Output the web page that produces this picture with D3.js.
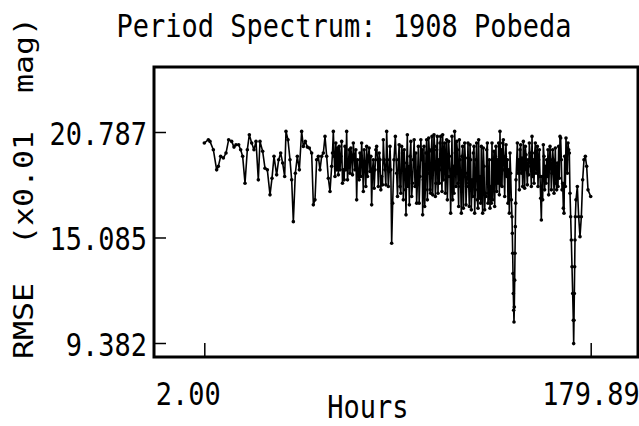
<!DOCTYPE html>
<html>
<head>
<meta charset="utf-8">
<script src="https://cdn.jsdelivr.net/npm/d3@7/dist/d3.min.js"></script>
<style>
html,body{margin:0;padding:0;background:#fff;}
svg{display:block;}
text{font-family:"DejaVu Sans Mono","Liberation Mono",monospace;fill:#000;}
</style>
</head>
<body>
<svg id="chart" width="639" height="426"></svg>
<script>
const title = "Period Spectrum: 1908 Pobeda";
const xLabel = "Hours";
const yLabel = "RMSE  (x0.01  mag)";
const xTicks = [2.00, 179.89];
const xTickLabels = ["2.00", "179.89"];
const yTicks = [20.787, 15.085, 9.382];
const yTickLabels = ["20.787", "15.085", "9.382"];

const hours = [
2.00,3.86,4.62,6.16,7.69,8.46,9.53,10.76,11.99,13.22,14.60,15.67,16.59,17.82,18.74,19.66,20.74,21.81,22.73,23.81,
24.88,25.80,26.87,27.64,28.87,29.94,31.02,32.25,33.17,34.09,35.31,36.24,37.16,38.08,39.00,39.61,40.53,41.45,42.22,42.99,
43.91,44.83,45.75,46.82,47.59,48.51,49.43,50.35,51.43,52.20,52.96,53.73,54.50,55.26,56.03,56.80,57.57,58.34,59.10,59.87,
60.64,61.40,62.17,62.94,63.71,64.47,65.24,66.01,66.77,67.54,68.31,69.08,69.84,70.61,71.38,72.15,72.91,73.68,74.45,75.21,
75.98,76.75,77.52,78.28,79.05,79.82,80.59,81.35,82.12,82.89,83.65,84.42,85.19,85.96,86.72,87.49,88.26,88.72,89.33,89.95,
90.56,91.33,92.10,92.86,93.63,94.40,94.86,95.47,96.09,96.70,97.47,98.23,99.00,99.77,100.54,101.30,102.07,102.53,103.14,103.76,
104.37,104.99,105.60,106.21,106.83,107.44,108.05,108.67,109.28,109.90,110.51,111.12,111.74,112.35,112.97,113.58,114.19,114.81,115.42,116.03,
116.65,117.26,117.88,118.49,119.10,119.72,120.33,120.95,121.56,122.17,122.79,123.40,124.01,124.63,125.24,125.86,126.47,127.08,127.70,128.31,
128.93,129.54,130.15,130.77,131.38,132.00,132.61,133.22,133.84,134.45,135.06,135.68,136.29,136.91,137.52,138.13,138.75,139.36,139.98,140.59,
141.20,141.82,142.43,143.05,143.35,143.66,143.81,143.97,144.12,144.27,144.43,144.58,144.73,144.89,145.04,145.19,145.35,145.50,146.12,146.73,
147.34,147.96,148.57,149.18,149.80,150.41,151.03,151.64,152.25,152.87,153.48,154.10,154.71,155.32,155.94,156.55,157.17,157.78,158.39,159.01,
159.62,160.23,160.85,161.46,162.08,162.69,163.30,163.92,164.53,165.14,165.76,166.37,166.99,167.60,168.21,168.83,169.44,170.06,170.36,170.67,
170.97,171.28,171.59,171.89,172.05,172.20,172.36,172.51,172.66,172.82,173.12,173.74,174.35,174.96,175.58,176.19,176.80,177.42,178.03,178.65,
179.89
];
const rmse = [
20.19,20.37,20.28,19.83,18.74,18.93,19.47,19.38,19.65,20.37,20.28,19.97,20.10,20.10,19.83,19.47,18.02,19.83,20.64,20.19,
19.83,20.28,18.20,20.28,19.74,18.83,18.74,17.39,18.29,19.47,18.47,19.29,19.65,19.11,18.38,20.82,20.37,19.29,18.20,15.94,
18.56,19.47,18.74,20.82,20.01,20.28,19.97,19.92,19.65,16.85,17.12,19.29,19.47,18.74,19.47,19.65,20.55,19.47,18.29,17.57,
18.93,20.82,18.38,18.74,18.47,18.74,20.28,18.74,20.01,20.82,18.93,18.56,19.47,20.19,18.74,17.12,18.47,19.65,20.19,17.57,
19.02,20.01,19.47,18.65,16.85,19.29,18.74,20.01,17.84,19.29,18.38,20.37,18.74,20.82,17.84,20.01,14.77,16.94,19.29,20.55,
18.56,19.29,17.84,20.01,17.12,18.74,16.31,20.64,18.93,19.47,17.30,19.29,17.84,16.94,20.01,18.38,19.29,16.31,20.01,17.66,
20.37,18.56,19.74,17.48,20.55,18.74,20.01,18.02,20.55,19.29,20.19,18.74,20.64,19.65,17.48,20.37,18.38,19.47,16.40,20.55,
18.93,20.82,17.84,19.83,16.76,19.29,16.40,20.01,18.38,19.38,17.84,20.19,16.76,19.29,18.20,19.65,16.40,19.29,17.12,20.37,
18.38,20.01,16.40,18.93,17.48,19.83,16.94,19.29,17.84,20.19,18.38,16.76,20.01,19.29,20.19,20.82,19.83,20.19,18.74,19.47,
18.38,16.94,16.40,18.56,17.12,16.21,15.31,14.23,13.14,12.06,11.15,10.52,11.33,12.78,14.23,15.67,16.94,18.20,20.19,19.29,
19.83,18.56,17.84,19.29,20.01,18.74,19.29,20.19,18.93,20.55,19.29,19.65,18.56,20.01,19.29,18.38,16.03,17.12,19.47,18.93,
19.29,19.83,18.93,19.29,18.56,19.29,18.74,18.02,19.11,20.01,20.55,19.29,18.02,16.40,17.84,19.29,20.19,19.65,17.48,16.21,
14.95,13.50,12.06,10.61,9.35,10.61,12.06,13.50,14.95,16.21,17.12,17.84,16.21,15.13,16.21,18.20,19.29,19.47,18.93,17.66,
17.30
];

const extraHours = [
61.02,61.79,62.55,63.32,64.09,64.86,65.62,66.39,67.16,67.93,68.69,69.46,70.23,70.99,71.76,72.53,73.30,74.06,74.83,75.60,
76.36,77.13,77.90,78.67,79.43,80.20,80.97,81.74,82.50,83.27,84.04,84.80,85.57,86.34,87.11,87.87,
90.95,91.71,92.48,93.25,94.02,94.63,95.17,95.78,96.40,97.08,97.85,98.62,99.38,100.15,100.92,101.69,102.30,102.84,103.45,104.07,
104.68,105.30,105.91,106.52,107.14,107.75,108.36,108.98,109.59,110.21,110.82,111.43,112.05,112.66,113.27,113.89,114.50,115.12,115.73,116.34,
116.96,117.57,118.19,118.80,119.41,120.03,120.64,121.26,121.87,122.48,123.10,123.71,124.32,124.94,125.55,126.17,126.78,127.39,128.01,128.62,
129.24,129.85,130.46,131.08,131.69,132.31,132.92,133.53,134.15,134.76,135.37,135.99,136.60,137.22,137.83,138.44,139.06,139.67,140.29,140.90,
141.51,142.13,142.74,
146.42,147.04,147.65,148.27,148.88,149.49,150.11,150.72,151.34,151.95,152.56,153.18,153.79,154.40,155.02,155.63,156.24,156.86,157.47,158.08,
158.70,159.31,159.93,160.54,161.16,161.77,162.38,163.00,163.61,164.22,164.84,165.45,166.07,166.68,167.30,167.91,168.52,169.13,169.75
];
const extraRmse = [
19.65,19.47,20.19,19.92,20.01,19.47,18.02,18.20,18.74,18.20,19.83,19.92,18.47,19.56,19.83,19.29,18.20,18.38,19.11,19.83,
17.84,18.38,19.92,19.47,18.74,17.75,19.83,19.29,19.65,17.66,17.93,19.29,17.93,19.29,18.65,18.74,
17.30,20.10,17.48,19.65,19.83,17.66,19.11,17.84,16.85,20.28,18.02,20.37,19.65,18.20,16.94,20.37,19.83,18.20,16.76,19.65,
17.12,20.46,17.66,19.83,17.39,20.64,17.30,19.83,17.48,18.02,20.55,17.57,18.20,20.19,19.29,17.12,20.28,18.38,18.74,17.12,
17.48,19.65,20.28,18.02,20.37,17.84,19.47,16.67,20.19,16.85,18.56,18.02,20.10,16.58,17.30,20.01,17.66,20.19,16.67,17.21,
16.94,17.84,19.92,16.58,17.30,20.19,17.48,16.67,16.94,17.12,19.74,19.47,17.57,18.02,17.39,17.93,17.84,20.37,17.30,20.10,
19.29,18.74,19.65,
18.56,17.66,20.10,19.38,20.28,17.75,19.56,17.93,18.47,19.65,17.84,18.38,18.02,20.19,19.47,17.84,19.83,17.21,18.38,20.10,
17.66,18.02,18.38,17.39,20.01,17.66,19.83,17.48,19.92,17.66,17.84,18.29,20.46,17.66,16.67,19.47,20.46,18.56,19.83
];

const data = hours.map((h, i) => ({h, r: rmse[i]}))
  .concat(extraHours.map((h, i) => ({h, r: extraRmse[i]})))
  .sort((a, b) => a.h - b.h);

const svg = d3.select("#chart");
const frame = {left: 154, top: 67, right: 638, bottom: 357};
const stretch = 1.17;

const x = d3.scaleLinear().domain([xTicks[0], xTicks[1]]).range([204.3, 590.7]);
const y = d3.scaleLinear().domain([yTicks[2], yTicks[0]]).range([343, 132]);

function addText(g, tx, ty, str, anchor, size) {
  return g.append("text")
    .attr("transform", `translate(${tx},${ty}) scale(1,${stretch})`)
    .attr("text-anchor", anchor)
    .attr("font-size", size)
    .text(str);
}

// title
addText(svg, 344, 37, title, "middle", 27);

// y axis ticks (inward)
const yAxis = d3.axisRight(y).tickValues(yTicks).tickSize(12).tickFormat("");
svg.append("g").attr("transform", `translate(${frame.left},0)`).call(yAxis)
  .call(g => g.select(".domain").remove())
  .call(g => g.selectAll("line").attr("stroke", "#000").attr("stroke-width", 1.5));

const yl = svg.append("g");
yTicks.forEach((d, i) => addText(yl, 147, y(d) + 13, yTickLabels[i], "end", 27));

// x axis ticks (inward, upward)
const xAxis = d3.axisTop(x).tickValues(xTicks).tickSize(14).tickFormat("");
svg.append("g").attr("transform", `translate(0,${frame.bottom})`).call(xAxis)
  .call(g => g.select(".domain").remove())
  .call(g => g.selectAll("line").attr("stroke", "#000").attr("stroke-width", 1.5));

const xl = svg.append("g");
xTicks.forEach((d, i) => addText(xl, x(d) - 48.5, 405, xTickLabels[i], "start", 27));

// axis titles
addText(svg, 368, 418, xLabel, "middle", 27);

svg.append("text")
  .attr("transform", `translate(33,188) rotate(-90) scale(${stretch},1)`)
  .attr("text-anchor", "middle")
  .attr("font-size", 27)
  .style("white-space", "pre")
  .text(yLabel);

// data line
const line = d3.line().x(d => x(d.h)).y(d => y(d.r));
svg.append("path").datum(data)
  .attr("d", line)
  .attr("fill", "none")
  .attr("stroke", "#000")
  .attr("stroke-width", 1.6)
  .attr("stroke-linejoin", "round");

svg.append("g").selectAll("circle").data(data).join("circle")
  .attr("cx", d => x(d.h)).attr("cy", d => y(d.r))
  .attr("r", 1.8)
  .attr("fill", "#000");

// frame
svg.append("rect")
  .attr("x", frame.left).attr("y", frame.top)
  .attr("width", frame.right - frame.left).attr("height", frame.bottom - frame.top)
  .attr("fill", "none").attr("stroke", "#000").attr("stroke-width", 3);
</script>
</body>
</html>
